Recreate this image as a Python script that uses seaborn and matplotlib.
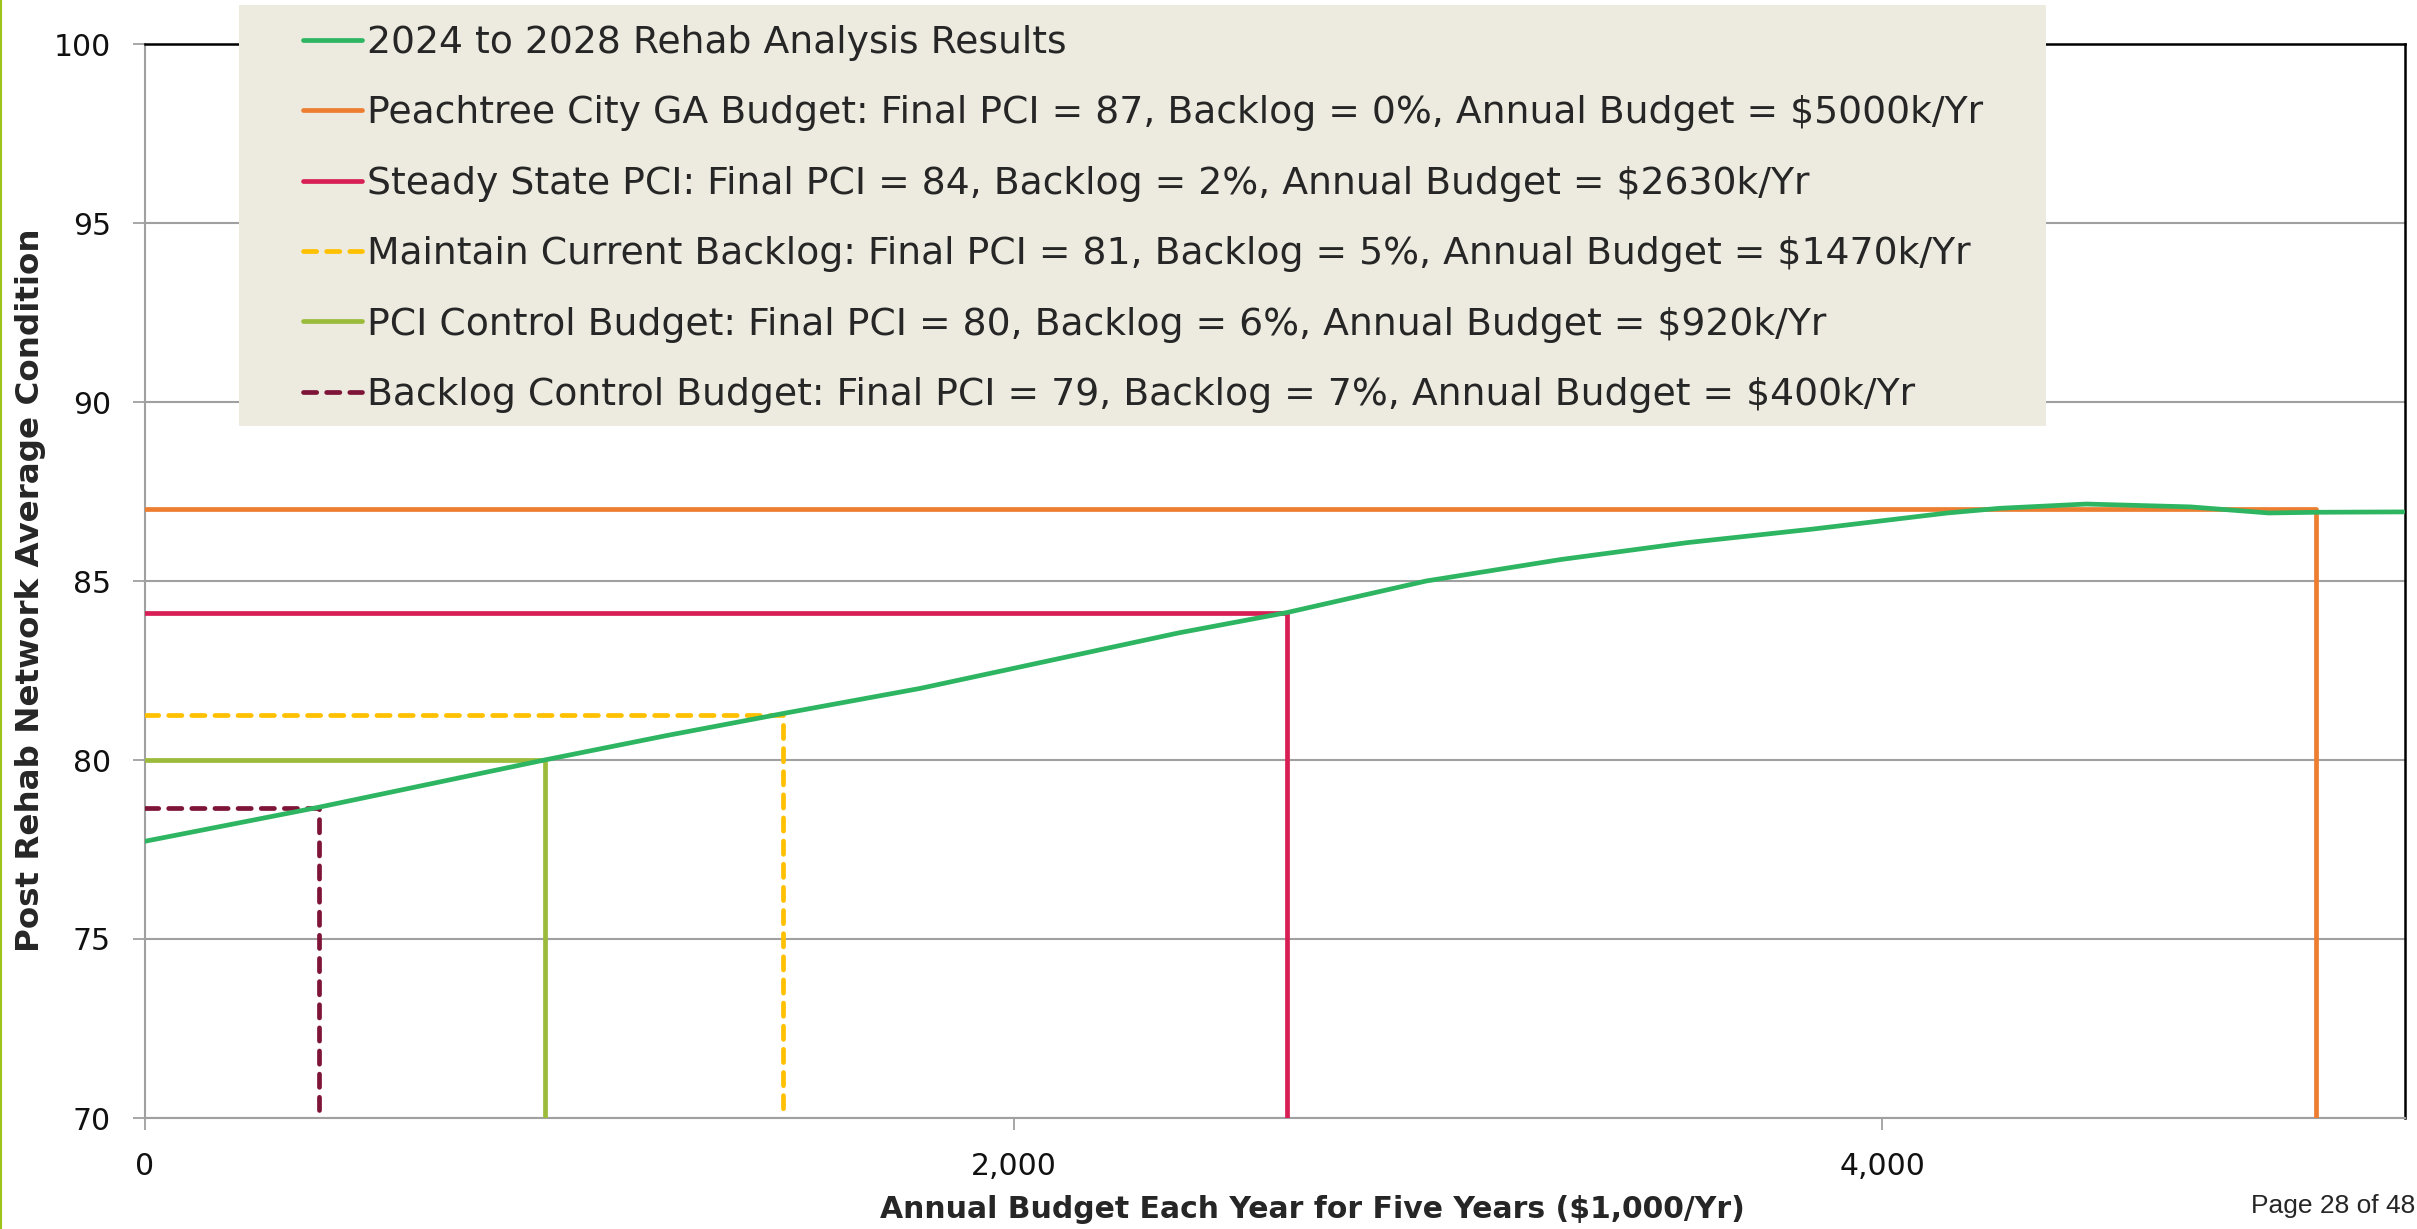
import matplotlib
matplotlib.use("Agg")
import matplotlib.pyplot as plt
import matplotlib.ticker as mticker
from matplotlib.patches import Rectangle
from matplotlib.lines import Line2D
import seaborn as sns

# rehab analysis curve
budget_k = [0, 400, 920, 1200, 1470, 1785, 2380, 2630, 2950, 3260, 3550,
            3840, 4150, 4270, 4470, 4710, 4890, 5000, 5200]
final_pci = [77.73, 78.68, 80.0, 80.68, 81.3, 82.0, 83.55, 84.12, 85.0, 85.6, 86.07,
             86.45, 86.9, 87.03, 87.15, 87.07, 86.9, 86.92, 86.93]
curve_label = "2024 to 2028 Rehab Analysis Results"

# budget scenarios
scen_labels = [
    "Peachtree City GA Budget: Final PCI = 87, Backlog = 0%, Annual Budget = $5000k/Yr",
    "Steady State PCI: Final PCI = 84, Backlog = 2%, Annual Budget = $2630k/Yr",
    "Maintain Current Backlog: Final PCI = 81, Backlog = 5%, Annual Budget = $1470k/Yr",
    "PCI Control Budget: Final PCI = 80, Backlog = 6%, Annual Budget = $920k/Yr",
    "Backlog Control Budget: Final PCI = 79, Backlog = 7%, Annual Budget = $400k/Yr",
]
scen_budget = [5000, 2630, 1470, 920, 400]
scen_pci = [87.0, 84.1, 81.26, 80.0, 78.66]
scen_colors = ["#ED7D31", "#D81F55", "#FFC000", "#9BBB3B", "#7E1538"]
scen_dashed = [False, False, True, False, True]

W, H = 2417, 1229
sns.set_style("white")
plt.rcParams["font.family"] = ["DejaVu Sans"]

fig = plt.figure(figsize=(W / 100, H / 100), dpi=100)
ax = fig.add_axes([145 / W, 1 - 1118 / H, (2405 - 145) / W, (1118 - 44) / H])

lw = 3.4
sns.lineplot(x=budget_k, y=final_pci, color="#2DB562", lw=lw, label=curve_label,
             estimator=None, sort=False, ax=ax, zorder=4)
for lab, b, p, c, d in zip(scen_labels, scen_budget, scen_pci, scen_colors, scen_dashed):
    ls = (0, (2.8, 2.1)) if d else "-"
    sns.lineplot(x=[0, b, b], y=[p, p, 70], color=c, lw=lw, linestyle=ls,
                 dash_capstyle="round", label=lab, estimator=None, sort=False,
                 ax=ax, zorder=3)

ax.set_xlim(0, 5204)
ax.set_ylim(70, 100)
ax.set_xticks([0, 2000, 4000])
ax.set_yticks(range(70, 101, 5))
ax.xaxis.set_major_formatter(mticker.FuncFormatter(lambda v, _: f"{v:,.0f}"))
ax.grid(axis="y", color="#A0A0A0", lw=1.5)
ax.grid(axis="x", visible=False)
for s in ["left", "bottom"]:
    ax.spines[s].set_color("#A0A0A0")
    ax.spines[s].set_linewidth(1.5)
for s in ["top", "right"]:
    ax.spines[s].set_color("black")
    ax.spines[s].set_linewidth(1.8)
ax.tick_params(axis="both", which="major", length=8.5, width=1.3, color="#A0A0A0",
               labelsize=21.5, pad=16, labelcolor="#111111")
ax.tick_params(axis="x", bottom=True)
ax.tick_params(axis="y", left=True)
ax.set_xlabel("")
ax.set_ylabel("")

if ax.get_legend() is not None:
    ax.get_legend().remove()
handles, labels = ax.get_legend_handles_labels()

# legend panel sits over the top of the plot area
fig.patches.append(Rectangle((239 / W, 1 - 426 / H), (2046 - 239) / W, (426 - 5) / H,
                             transform=fig.transFigure, facecolor="#EDEBE0",
                             edgecolor="none", zorder=2))
fig.legend(handles, labels, loc="upper left", bbox_to_anchor=(303 / W, 1 - 25 / H),
           frameon=False, fontsize=27.2, handlelength=1.56, handletextpad=0.13,
           labelspacing=0.91, borderpad=0, borderaxespad=0)

fig.text(1312 / W, 1 - 1210 / H, "Annual Budget Each Year for Five Years ($1,000/Yr)",
         ha="center", va="center", fontsize=21.5, fontweight="bold")
fig.text(31 / W, 1 - 590 / H, "Post Rehab Network Average Condition", rotation=90,
         ha="center", va="center", fontsize=23.4, fontweight="bold")
fig.text(2415 / W, 1 - 1206 / H, "Page 28 of 48", ha="right", va="center",
         fontsize=19, family=["Liberation Sans", "DejaVu Sans"])

fig.lines.append(Line2D([1 / W, 1 / W], [0, 1], transform=fig.transFigure,
                        color="#9DC41A", lw=1.5))

fig.savefig("out.png", dpi=100)
